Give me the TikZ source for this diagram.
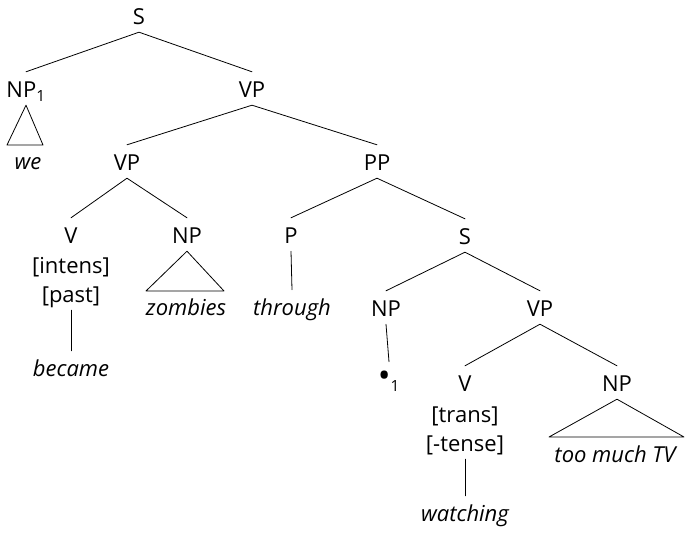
\documentclass[tikz,border=0pt]{standalone}
\usepackage{fontspec}
\setmainfont{Open Sans}
\tikzset{
  cat/.style={anchor=base, inner sep=0pt, text height=26pt, text depth=7pt,
    font=\fontsize{22}{24}\selectfont},
  word/.style={cat, font=\fontsize{22}{24}\selectfont\itshape},
  branch/.style={line width=0.8pt, line cap=round, line join=round}
}
\begin{document}
\begin{tikzpicture}[x=1pt, y=-1pt]
    \useasboundingbox (0,0) rectangle (686,534);
    % Categories
    \node[cat] (s0) at (139,25) {S};
    \node[cat] (np1) at (26,98) {NP\textsubscript{1}};
    \node[cat] (vp0) at (252,98) {VP};
    \node[cat] (vp1) at (127,171) {VP};
    \node[cat] (pp) at (377,171) {PP};
    \node[cat] (v1) at (71,244) {V};
    \node[cat] (v1a) at (71,274) {[intens]};
    \node[cat] (v1b) at (71,303) {[past]};
    \node[cat] (np2) at (187,244) {NP};
    \node[cat] (p) at (291,244) {P};
    \node[cat] (s1) at (465,245) {S};
    \node[cat] (np3) at (386,317) {NP};
    \node[cat] (vp2) at (540,317) {VP};
    \node[cat] (v2) at (465,392) {V};
    \node[cat] (v2a) at (465,423) {[trans]};
    \node[cat] (v2b) at (465,452) {[-tense]};
    \node[cat] (np4) at (617,392) {NP};
    % Words
    \node[word] (we) at (28,170) {we};
    \node[word] (became) at (71,377) {became};
    \node[word] (zombies) at (186,316) {zombies};
    \node[word] (through) at (292,316) {through};
    \node[cat] (trace) at (389,388) {{\fontsize{34}{24}\selectfont•}\textsubscript{1}};
    \node[word] (watching) at (465,522) {watching};
    \node[word] (tv) at (615,463) {too much TV};
    % Branches
    \draw[branch] (np1.north) -- (s0.south) -- (vp0.north);
    \draw[branch] (vp1.north) -- (vp0.south) -- (pp.north);
    \draw[branch] (v1.north) -- (vp1.south) -- (np2.north);
    \draw[branch] (p.north) -- (pp.south) -- (s1.north);
    \draw[branch] (np3.north) -- (s1.south) -- (vp2.north);
    \draw[branch] (v2.north) -- (vp2.south) -- (np4.north);
    \draw[branch] (v1b.south) -- (became.north);
    \draw[branch] (p.south) -- (through.north);
    \draw[branch] (np3.south) -- (trace.north);
    \draw[branch] (v2b.south) -- (watching.north);
    % Triangles
    \draw[branch] (np1.south) -- (7,145) -- (43,145) -- cycle;
    \draw[branch] (np2.south) -- (146,291) -- (224,291) -- cycle;
    \draw[branch] (np4.south) -- (549,437) -- (684,437) -- cycle;
\end{tikzpicture}
\end{document}
